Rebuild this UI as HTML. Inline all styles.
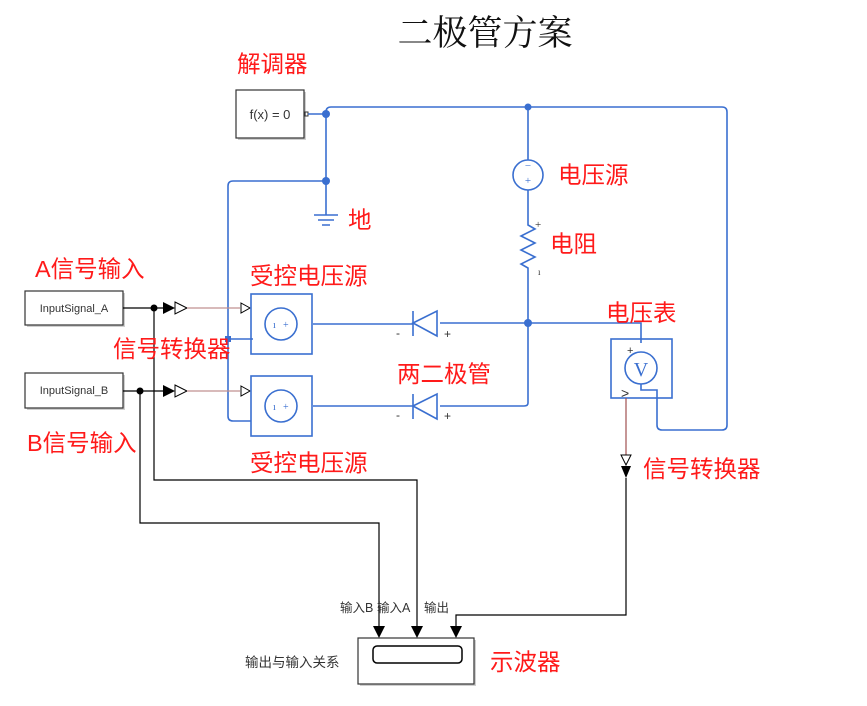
<!DOCTYPE html>
<html><head><meta charset="utf-8"><style>
html,body{margin:0;padding:0;background:#fff;}
svg{display:block;}
.r{fill:#ff1a1a;font-family:"Liberation Sans","Noto Sans CJK SC",sans-serif;font-size:23.5px;}
.b{stroke:#3a6fd0;stroke-width:1.6;fill:none;}
.k{stroke:#000;stroke-width:1.2;fill:none;}
.g{fill:#333;font-family:"Liberation Sans","Noto Sans CJK SC",sans-serif;}
</style></head><body>
<svg width="867" height="706" viewBox="0 0 867 706" xmlns="http://www.w3.org/2000/svg">
<text x="485" y="45" text-anchor="middle" font-family="Liberation Serif,'Noto Serif CJK SC',serif" font-size="35" fill="#111">二极管方案</text>
<text class="r" x="237" y="72">解调器</text>
<rect x="238" y="92" width="68" height="48" fill="#888" opacity="0.4"/>
<rect x="236" y="90" width="68" height="48" fill="#fff" stroke="#333" stroke-width="1.2"/>
<text class="g" x="270" y="119" text-anchor="middle" font-size="13">f(x) = 0</text>
<rect x="305" y="112" width="3" height="4" fill="none" stroke="#333"/>
<path class="b" d="M308 114H326M326 114V112Q326 107 331 107H722Q727 107 727 112V425Q727 430 722 430H662Q657 430 657 425V390H641V384"/>
<path class="b" d="M326 114V215M326 181H233Q228 181 228 186V416Q228 421 233 421H251M228 339H253"/>
<circle cx="326" cy="114" r="4" fill="#3a6fd0"/><circle cx="326" cy="181" r="4" fill="#3a6fd0"/>
<rect x="225" y="336" width="6" height="6" fill="#3a6fd0"/>
<path class="b" d="M314 215H338M318 220H334M322 225H330"/>
<text class="r" x="348" y="228">地</text>
<path class="b" d="M528 107V160M528 190V225L535 229L521 236L535 243L521 250L535 257L521 264L528 268V403Q528 406 524 406H440M413 406H313M528 323H641V343M313 324H413M440 323H528"/>
<circle cx="528" cy="107" r="3.5" fill="#3a6fd0"/><circle cx="528" cy="323" r="4" fill="#3a6fd0"/>
<circle class="b" cx="528" cy="175" r="15"/>
<text x="528" y="169" text-anchor="middle" font-size="11" fill="#3a6fd0">−</text>
<text x="528" y="184" text-anchor="middle" font-size="11" fill="#3a6fd0">+</text>
<text x="535" y="228" font-size="11" fill="#333">+</text><text x="538" y="275" font-size="9" fill="#333">ı</text>
<text class="r" x="558" y="183">电压源</text>
<text class="r" x="550" y="252">电阻</text>
<path class="b" d="M413 311V336M413 323L437 311V336Z"/>
<path class="b" d="M413 394V419M413 406L437 394V419Z"/>
<text class="g" x="396" y="337" font-size="12">-</text><text class="g" x="444" y="338" font-size="12">+</text>
<text class="g" x="396" y="419" font-size="12">-</text><text class="g" x="444" y="420" font-size="12">+</text>
<text class="r" x="397" y="382">两二极管</text>
<text class="r" x="606" y="321">电压表</text>
<rect class="b" x="611" y="339" width="61" height="59"/>
<circle class="b" cx="641" cy="368" r="16"/>
<text x="641" y="376" text-anchor="middle" font-family="Liberation Serif,serif" font-size="20" fill="#3a6fd0">V</text>
<text class="g" x="627" y="354" font-size="11">+</text>
<text class="g" x="621" y="398" font-size="14">&gt;</text>
<path d="M626 398V455" stroke="#a05050" stroke-width="1.2"/>
<path d="M621 455H631L626 465Z" fill="#fff" stroke="#000"/>
<path d="M621 466H631L626 478Z" fill="#000"/>
<text class="r" x="643" y="477">信号转换器</text>
<path class="k" d="M626 478V615H456V632"/>
<text class="r" x="35" y="277">A信号输入</text>
<rect x="27" y="293" width="98" height="34" fill="#888" opacity="0.4"/>
<rect x="25" y="291" width="98" height="34" fill="#fff" stroke="#333" stroke-width="1.2"/>
<text class="g" x="74" y="312" text-anchor="middle" font-size="11">InputSignal_A</text>
<rect x="27" y="375" width="98" height="35" fill="#888" opacity="0.4"/>
<rect x="25" y="373" width="98" height="35" fill="#fff" stroke="#333" stroke-width="1.2"/>
<text class="g" x="74" y="394" text-anchor="middle" font-size="11">InputSignal_B</text>
<text class="r" x="27" y="451">B信号输入</text>
<path class="k" d="M123 308H163M123 391H163M154 308V480H417V632M140 391V523H379V632"/>
<circle cx="154" cy="308" r="3.5"/><circle cx="140" cy="391" r="3.5"/>
<path d="M163 302L175 308L163 314Z"/><path d="M175 302L187 308L175 314Z" fill="#fff" stroke="#000"/>
<path d="M163 385L175 391L163 397Z"/><path d="M175 385L187 391L175 397Z" fill="#fff" stroke="#000"/>
<path d="M187 308H240M187 391H240" stroke="#c09090" stroke-width="1.2"/>
<path d="M241 303L250 308L241 313Z" fill="#fff" stroke="#000"/>
<path d="M241 386L250 391L241 396Z" fill="#fff" stroke="#000"/>
<text class="r" x="113" y="357">信号转换器</text>
<text class="r" x="250" y="284">受控电压源</text>
<text class="r" x="250" y="471">受控电压源</text>
<rect class="b" x="251" y="294" width="61" height="60"/>
<circle class="b" cx="281" cy="324" r="16"/>
<text x="273" y="328" font-size="10" fill="#3a6fd0">ı</text><text x="283" y="328" font-size="10" fill="#3a6fd0">+</text>
<rect class="b" x="251" y="376" width="61" height="60"/>
<circle class="b" cx="281" cy="406" r="16"/>
<text x="273" y="410" font-size="10" fill="#3a6fd0">ı</text><text x="283" y="410" font-size="10" fill="#3a6fd0">+</text>
<path d="M373 626H385L379 638Z M411 626H423L417 638Z M450 626H462L456 638Z"/>
<text class="g" x="340" y="612" font-size="12.5">输入B</text>
<text class="g" x="377" y="612" font-size="12.5">输入A</text>
<text class="g" x="424" y="612" font-size="12.5">输出</text>
<rect x="360" y="640" width="116" height="46" fill="#888" opacity="0.4"/>
<rect x="358" y="638" width="116" height="46" fill="#fff" stroke="#333" stroke-width="1.2"/>
<rect x="373" y="646" width="89" height="17" rx="4" fill="none" stroke="#000" stroke-width="1.5"/>
<text class="g" x="245" y="667" font-size="13.5">输出与输入关系</text>
<text class="r" x="490" y="670">示波器</text>
</svg>
</body></html>
